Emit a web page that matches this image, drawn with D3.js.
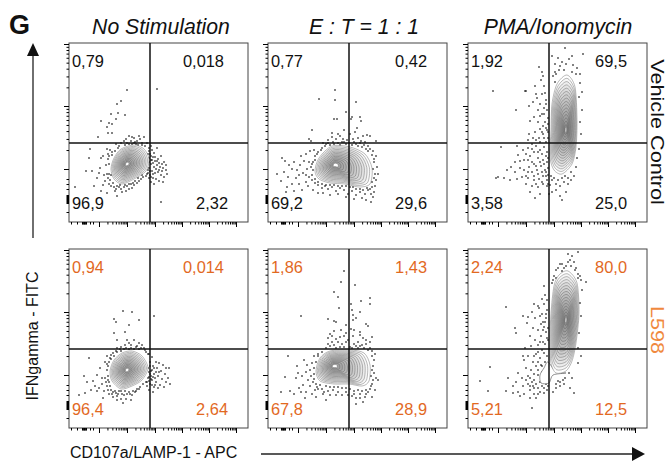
<!DOCTYPE html>
<html>
<head>
<meta charset="utf-8">
<script src="https://cdn.jsdelivr.net/npm/d3@7"></script>
<style>
  html, body { margin: 0; background: #fff; }
  text { font-family: "Liberation Sans", Arial, sans-serif; }
</style>
</head>
<body>
<div id="wrapper"></div>
<script>
// values, channel units are 0-179 on both axes
const columnTitles = ["No Stimulation", "E : T = 1 : 1", "PMA/Ionomycin"]
const rowLabels = ["Vehicle Control", "L598"]

const quadrantsVehicle = [
  ["0,79", "0,018", "96,9", "2,32"],
  ["0,77", "0,42", "69,2", "29,6"],
  ["1,92", "69,5", "3,58", "25,0"],
]
const quadrantsL598 = [
  ["0,94", "0,014", "96,4", "2,64"],
  ["1,86", "1,43", "67,8", "28,9"],
  ["2,24", "80,0", "5,21", "12,5"],
]

const gateX = 81
const gateY = 79

const xDecades = [30, 58, 86, 113, 140, 167]
const yDecades = [53, 116, 178]
const xLowTicks = [2, 8, 13, 13.7, 14.4, 15, 15.7, 16.4, 17, 21, 24]
const yLowTicks = [10, 19, 20, 21, 22, 23, 24, 25, 26, 27, 33, 38, 43]
const minorSteps = [2, 3, 4, 5, 6, 7, 8, 9]

// contour outlines (outer line), core = where the rings close in
const outlineVehicleNone = [[65,77],[75,73],[80,63],[77,51],[65,43],[53,38],[45,43],[42,53],[45,64],[52,73]]
const coreVehicleNone = [58, 58]
const outlineVehicleEt = [[64,76],[82,75],[97,68],[104,54],[102,38],[91,35],[77,38],[62,39],[51,43],[47,51],[51,64]]
const coreVehicleEt = [67, 57]
const outlineVehiclePma = [[99,147],[107,135],[109,102],[108,75],[104,58],[94,48],[86,52],[82,65],[83,92],[84,118],[89,138]]
const coreVehiclePma = [98, 92]
const outlineL598None = [[63,77],[73,72],[79,60],[73,48],[63,42],[52,39],[43,47],[41,57],[45,68],[53,75]]
const coreL598None = [58, 58]
const outlineL598Et = [[62,77],[82,78],[96,75],[102,63],[101,47],[94,42],[81,44],[66,44],[52,47],[48,57],[52,70]]
const coreL598Et = [66, 62]
const outlineL598Pma = [[100,157],[109,145],[111,115],[108,85],[104,67],[98,57],[88,55],[83,65],[82,88],[83,115],[86,142],[91,153]]
const coreL598Pma = [98, 108]
const outlineL598Tail = [[80,66],[88,56],[98,55],[85,53],[81,45],[73,45],[72,53],[76,60]]

const ringsRound = [1, .93, .86, .79, .72, .65, .58, .51, .44, .37, .3, .23, .16, .09]
const ringsTall = [1, .94, .88, .82, .76, .7, .64, .58, .52, .46, .4, .34, .28, .22, .16, .1, .05]

// outlying events
const dotsVehicleNone = [
  [58,132],[88,133],[52,121],[48,118],[49,109],[56,107],[47,103],[42,108],[32,101],[40,99],[38,95],[43,98],[39,89],[43,89],[29,85],
  [60,86],[65,84],[70,86],[75,85],[57,83],[62,81],[68,81],[73,79],[52,79],[47,78],[78,79],[58,79],[65,79],[55,81],[71,83],[63,85],[67,78],[60,78],[50,76],[56,77],[73,77],[76,76],
  [21,73],[20,64],[32,64],[38,73],[17,51],[23,51],[6,35],[25,36],[32,31],[38,29],[48,26],[92,20],[35,47],[37,57],[34,66],[39,63],[31,54],[28,44],[36,41],[40,38],[38,48],[39,68],[41,72],[43,70],[30,49],[34,37],
  [42,36],[45,35],[47,33],[50,35],[52,33],[55,35],[58,36],[60,33],[62,38],[65,37],[68,39],[70,41],[72,43],[74,45],[53,30],[57,31],[44,39],[41,42],[46,31],[63,34],[77,46],[79,49],
  [80,74],[83,72],[81,68],[85,69],[88,74],[80,64],[83,62],[86,65],[89,63],[92,66],[95,60],[82,58],[85,55],[88,57],[91,55],[94,54],[97,52],[98,48],[80,54],[83,51],[86,49],[89,50],[92,47],[95,45],[81,47],[84,44],[87,43],[90,41],[94,40],[82,40],[85,38],[80,60],[78,56],[79,68],[82,76],[97,57],
  [80,71],[82,66],[84,65],[86,61],[88,61],[90,59],[93,58],[82,62],[84,59],[87,53],[90,52],[93,51],[84,48],[81,51],[82,45],[78,60],[79,52],[80,44],[78,48],[40,58],[40,48],[39,44],[42,47],[40,66],[43,67],[46,71],[49,74],[66,80],[63,78],[69,77],[48,36],[51,37],[56,37],[60,38],[64,39],[66,41],[69,44],[73,47]
]
const dotsVehicleEt = [
  [67,132],[51,123],[67,122],[88,120],[66,103],[69,103],[84,105],[92,105],[93,101],[89,94],[83,103],[78,110],[44,92],[64,89],[70,88],[76,92],[82,88],[87,90],[95,86],[99,87],[102,86],[108,81],[41,83],[43,81],[55,79],[60,82],[64,85],[68,83],[72,86],[75,83],[79,82],[85,83],[90,84],[93,81],[97,80],
  [60,79],[65,80],[70,79],[74,80],[78,78],[88,78],[92,79],[96,77],[100,76],[102,73],[105,71],[108,66],[106,60],[109,55],[110,48],[108,42],[107,36],[106,30],[105,25],[103,28],[100,32],[97,28],[94,24],[92,30],[88,27],[84,31],[80,28],[76,32],[72,34],[68,31],[64,35],[60,33],[57,36],[54,34],[50,37],[47,39],[44,42],[41,45],[43,55],[45,60],[47,66],[50,70],[54,74],[57,76],
  [14,64],[17,61],[21,57],[16,50],[9,48],[13,41],[20,45],[24,53],[26,60],[29,52],[32,57],[35,49],[28,44],[24,38],[19,35],[18,30],[26,31],[31,38],[34,32],[38,40],[36,61],[39,53],[41,60],[38,47],[31,47],[33,66],[38,68],[42,71],[46,72],[40,36],[45,32],[50,29],[55,29],[62,27],[70,28],[78,25],[86,23],[98,22],[103,20],
  [84,77],[86,80],[90,76],[94,75],[98,73],[100,71],[104,67],[106,63],[105,53],[107,48],[106,44],[104,40],[104,35],[102,33],[99,34],[95,32],[92,33],[88,33],[85,35],[82,35],[78,36],[74,36],[70,36],[66,37],[62,37],[58,37],[54,38],[50,40],[47,43],[44,47],[45,52],[44,58],[47,62],[49,68],[53,72],[58,78],[62,77],[66,78],[72,77],[76,80],[81,79]
]
const dotsVehiclePma = [
  [25,131],[58,131],[48,112],[57,131],[67,136],[68,128],[65,120],[69,124],[72,118],[61,116],[75,146],[71,155],[74,150],[73,142],[76,136],[77,129],[78,122],[70,112],[74,108],[66,105],[62,101],[70,100],[75,96],[79,112],[80,104],[77,100],[72,93],[67,90],[61,88],[60,82],[65,84],[71,84],[75,88],[79,92],[80,84],[78,80],
  [49,76],[33,75],[50,67],[47,60],[55,72],[58,68],[52,61],[60,62],[64,73],[68,76],[72,72],[76,75],[79,70],[61,55],[56,52],[66,58],[70,64],[75,62],[79,60],[64,50],[69,52],[73,56],[77,52],[80,47],[47,50],[43,55],[39,52],[30,45],[28,44],[36,44],[42,42],[49,43],[54,45],[60,44],[66,42],[71,43],[75,46],[79,42],[58,38],[64,36],[70,35],[75,38],[79,36],[62,30],[67,24],[72,28],
  [84,166],[90,164],[97,174],[104,166],[115,168],[87,158],[91,152],[94,160],[98,158],[101,163],[105,157],[109,154],[112,148],[85,146],[87,140],[112,139],[114,130],[111,125],[114,112],[112,100],[113,88],[111,73],[109,64],[108,55],[106,46],[103,42],[100,38],[96,40],[92,36],[88,38],[84,42],[82,37],[88,32],[92,26],[94,22],[98,30],[84,30],[97,46],[103,50],[81,28],
  [74,128],[78,118],[76,114],[72,106],[76,108],[80,98],[78,94],[74,90],[80,90],[76,84],[72,80],[68,82],[64,78],[60,74],[66,70],[70,70],[74,68],[78,66],[80,64],[76,58],[72,60],[68,56],[64,60],[60,50],[66,46],[70,48],[74,50],[78,50],[80,54],[62,66],[56,62],[52,54],[58,46],[68,38],[74,40],[78,46],[80,38],[83,46],[86,44],[90,42],[94,44],[100,44],[88,148],[92,156],[96,152],[104,150],[108,148],[87,150]
]
const dotsL598None = [
  [54,117],[63,116],[45,109],[70,108],[85,112],[47,106],[60,103],[45,95],[48,88],[56,96],
  [58,88],[60,85],[65,88],[68,82],[62,83],[56,83],[52,81],[70,85],[73,83],[75,80],[48,80],[51,79],[55,79],[60,79],[65,79],[70,79],[76,78],[44,75],[42,73],[47,77],[77,76],[79,74],[38,72],[36,66],[39,62],[41,70],
  [38,58],[36,50],[40,46],[38,42],[42,38],[44,36],[47,35],[50,37],[53,34],[56,37],[60,36],[63,33],[66,36],[68,39],[71,41],[74,44],[77,46],[40,34],[44,31],[48,32],[52,29],[57,29],[62,28],[54,25],[48,28],
  [20,70],[15,52],[18,46],[24,47],[28,53],[31,60],[33,50],[26,42],[30,40],[35,37],[10,33],[16,35],[22,38],[28,37],[33,44],[34,30],
  [80,74],[83,71],[87,66],[90,65],[94,63],[97,60],[100,60],[81,66],[84,62],[88,60],[92,57],[96,54],[99,50],[82,57],[85,54],[89,52],[93,49],[97,46],[101,44],[80,51],[83,48],[87,46],[91,43],[95,41],[81,44],[85,41],[89,40],[80,38],[84,36],[78,42],[79,60],[80,56],[82,52],[86,50],
  [81,62],[83,58],[85,60],[87,56],[90,56],[82,49],[84,51],[81,54],[79,50],[78,46],[80,47],[83,43],[86,43],[39,52],[39,48],[37,46],[41,42],[39,38],[43,34],[46,37],[49,34],[52,37],[55,33],[58,34],[61,34],[64,37],[67,37],[70,39],[38,64],[40,66],[42,69],[45,72],[48,76],[52,77],[57,80],[62,80],[67,81],[72,80]
]
const dotsL598Et = [
  [76,157],[73,146],[87,143],[66,136],[70,131],[102,130],[93,127],[71,120],[83,124],[102,124],[84,118],[85,113],[92,116],[33,112],[60,109],[66,107],[68,106],[85,108],[88,110],[98,104],[100,102],[78,103],[83,99],[86,98],[92,96],[62,94],[66,97],[73,98],[78,95],
  [60,90],[64,92],[68,89],[72,91],[76,92],[80,88],[85,92],[92,93],[95,90],[98,88],[102,86],[104,91],[64,86],[70,86],[74,84],[78,86],[86,84],[90,86],[94,83],[98,84],[102,80],[62,82],[58,80],[66,83],[72,81],[82,81],[90,80],[96,80],[104,77],[107,74],
  [20,72],[29,62],[30,55],[28,50],[17,51],[36,68],[39,63],[44,65],[42,58],[38,56],[34,52],[40,48],[35,43],[42,42],[47,38],[44,34],[38,36],[33,36],[31,40],[22,37],[13,36],[26,34],[37,30],[48,31],[55,34],[60,37],[65,38],[70,36],[74,33],[78,36],[84,32],[88,30],[92,34],[97,31],[100,36],[103,42],[105,48],[106,55],[105,62],[108,50],[110,48],[107,38],[104,31],[95,26],[88,24],[58,28],[54,39],[49,41],[45,46],[43,52],[46,72],[50,74],
  [60,84],[68,80],[76,81],[84,80],[88,82],[92,82],[100,78],[104,72],[106,68],[104,58],[103,52],[104,44],[102,39],[98,38],[94,37],[90,38],[86,37],[82,39],[78,40],[74,40],[70,41],[66,41],[62,41],[58,42],[52,43],[48,44],[46,49],[46,54],[46,60],[48,66],[50,72],[54,76],[50,39],[56,36],[62,33],[68,33],[80,33],[86,34],[92,30],[98,34]
]
const dotsL598Pma = [
  [38,121],[48,95],[47,100],[55,112],[60,111],[59,105],[64,116],[66,124],[70,122],[76,142],[77,133],[74,129],[71,120],[67,110],[72,112],[75,106],[79,118],[78,110],[76,101],[70,98],[65,100],[62,92],[67,88],[73,92],[78,96],[80,88],[75,86],[70,83],[63,82],[57,80],
  [55,72],[22,61],[50,55],[40,50],[45,42],[12,47],[20,37],[38,37],[56,68],[60,72],[65,66],[68,74],[72,70],[76,75],[79,72],[58,60],[63,58],[68,62],[73,63],[77,66],[54,50],[60,52],[66,48],[70,53],[74,56],[45,35],[50,36],[56,34],[62,38],[66,34],[70,40],[74,42],[78,44],[48,46],[55,42],[60,44],[65,42],[72,36],[76,35],[79,38],[52,32],[62,30],[68,30],[64,20],[106,35],[102,40],[96,44],[92,42],[88,40],[85,36],[90,47],[97,50],[104,50],[101,55],[110,65],
  [92,164],[96,160],[100,166],[104,172],[110,176],[100,174],[94,157],[98,152],[103,162],[107,158],[110,154],[88,158],[86,152],[84,145],[113,148],[118,146],[114,138],[110,150],[112,125],[113,112],[111,95],[110,80],[113,72],
  [79,128],[76,124],[78,114],[74,114],[77,106],[73,104],[80,100],[75,98],[79,90],[72,86],[77,84],[74,78],[70,76],[66,72],[70,66],[74,62],[70,58],[66,54],[62,50],[68,44],[72,46],[64,46],[58,48],[76,40],[80,42],[70,34],[66,40],[62,42],[88,44],[92,46],[95,48],[90,160],[94,164],[98,162],[102,168],[106,166],[108,160],[112,152],[88,150],[85,148]
]

// 1. Create chart parameters
let dimensions = {
  width: 669,
  height: 463,
  panel: 179,
  columns: [69, 268, 468],
  rows: [43, 249],
}

const orange = "#e2691f"

// 2. Scales, channel units to panel pixels
const xScale = d3.scaleLinear().domain([0, 179]).range([0, dimensions.panel])
const yScale = d3.scaleLinear().domain([0, 179]).range([dimensions.panel, 0])

const panels = [
  { col: 0, row: 0, q: quadrantsVehicle[0], dots: dotsVehicleNone, outline: outlineVehicleNone, core: coreVehicleNone, rings: ringsRound },
  { col: 1, row: 0, q: quadrantsVehicle[1], dots: dotsVehicleEt, outline: outlineVehicleEt, core: coreVehicleEt, rings: ringsRound },
  { col: 2, row: 0, q: quadrantsVehicle[2], dots: dotsVehiclePma, outline: outlineVehiclePma, core: coreVehiclePma, rings: ringsTall },
  { col: 0, row: 1, q: quadrantsL598[0], dots: dotsL598None, outline: outlineL598None, core: coreL598None, rings: ringsRound },
  { col: 1, row: 1, q: quadrantsL598[1], dots: dotsL598Et, outline: outlineL598Et, core: coreL598Et, rings: ringsRound },
  { col: 2, row: 1, q: quadrantsL598[2], dots: dotsL598Pma, outline: outlineL598Pma, core: coreL598Pma, rings: ringsTall, tail: outlineL598Tail },
]

// log style ticks, each decade gets its minor ticks
const decadeWidth = (decades, i) => decades[i + 1] - decades[i]
const minorsOf = decades => decades.slice(0, -1).flatMap((d, i) =>
  minorSteps.map(m => d + Math.log10(m) * decadeWidth(decades, i)))

// 3. Create SVG canvas
const wrapper = d3.select("#wrapper")
  .append("svg")
    .attr("width", dimensions.width)
    .attr("height", dimensions.height)

const defs = wrapper.append("defs")
defs.append("filter").attr("id", "soft")
  .append("feGaussianBlur").attr("stdDeviation", 0.25)

const contourLine = d3.line()
  .x(d => xScale(d[0]))
  .y(d => yScale(d[1]))
  .curve(d3.curveCardinalClosed.tension(0.15))

// 4. Draw panels
panels.forEach(p => {
  const bounds = wrapper.append("g")
    .attr("transform", `translate(${dimensions.columns[p.col]},${dimensions.rows[p.row]})`)

  const marks = bounds.append("g").attr("filter", "url(#soft)")

  marks.selectAll(".dot").data(p.dots).join("rect")
    .attr("class", "dot")
    .attr("x", d => xScale(d[0]) - 0.7)
    .attr("y", d => yScale(d[1]) - 0.7)
    .attr("width", 1.4)
    .attr("height", 1.4)
    .attr("fill", "#000")

  if (p.tail) {
    marks.append("path")
      .attr("d", contourLine(p.tail))
      .attr("fill", "#fff")
      .attr("stroke", "#666")
      .attr("stroke-width", 0.7)
  }

  // rings shrink from the outer line to the core
  p.rings.forEach((r, i) => {
    const ring = p.outline.map(d => [p.core[0] + (d[0] - p.core[0]) * r, p.core[1] + (d[1] - p.core[1]) * r])
    const last = i === p.rings.length - 1
    marks.append("path")
      .attr("d", contourLine(ring))
      .attr("fill", i === 0 || last ? "#fff" : "#000")
      .attr("fill-opacity", i === 0 || last ? 1 : 0.035)
      .attr("stroke", "#555")
      .attr("stroke-opacity", 0.75)
      .attr("stroke-width", 0.55)
  })

  // frame
  bounds.append("rect")
    .attr("width", dimensions.panel)
    .attr("height", dimensions.panel)
    .attr("fill", "none")
    .attr("stroke", "#444")
    .attr("stroke-width", 1)

  // gate lines
  bounds.append("line")
    .attr("x1", 0).attr("x2", dimensions.panel)
    .attr("y1", yScale(gateY)).attr("y2", yScale(gateY))
    .attr("stroke", "#111").attr("stroke-width", 1.5)
  bounds.append("line")
    .attr("x1", xScale(gateX)).attr("x2", xScale(gateX))
    .attr("y1", 0).attr("y2", dimensions.panel)
    .attr("stroke", "#111").attr("stroke-width", 1.5)

  // axes
  const bottom = bounds.append("g").attr("transform", `translate(0,${dimensions.panel})`)
  const left = bounds.append("g")
  bottom.append("g").call(d3.axisBottom(xScale).tickValues(xDecades).tickSize(5).tickFormat(""))
  bottom.append("g").call(d3.axisBottom(xScale).tickValues(minorsOf(xDecades).concat(xLowTicks)).tickSize(2.5).tickFormat(""))
  left.append("g").call(d3.axisLeft(yScale).tickValues(yDecades).tickSize(5).tickFormat(""))
  left.append("g").call(d3.axisLeft(yScale).tickValues(minorsOf(yDecades).concat(yLowTicks)).tickSize(2.5).tickFormat(""))
  bounds.selectAll(".domain").remove()
  bounds.selectAll(".tick line").attr("stroke", "#000").attr("stroke-width", 1)

  // quadrant percentages
  const labelColor = p.row === 1 ? orange : "#111"
  const rightEdge = t => t.length > 4 ? 155 : 159
  const quad = (t, x, y, anchor) => bounds.append("text")
    .attr("x", x).attr("y", y)
    .attr("text-anchor", anchor)
    .attr("font-size", 16.4)
    .attr("fill", labelColor)
    .text(t)
  quad(p.q[0], 3, 23.5, "start")
  quad(p.q[1], rightEdge(p.q[1]), 23.5, "end")
  quad(p.q[2], 3, 165.5, "start")
  quad(p.q[3], rightEdge(p.q[3]), 165.5, "end")
})

// 5. Titles and outside labels
wrapper.append("text")
  .attr("x", 9).attr("y", 34)
  .attr("font-size", 27).attr("font-weight", "bold")
  .attr("fill", "#111")
  .text("G")

const titleCenters = [161, 364, 558]
wrapper.selectAll(".title").data(columnTitles).join("text")
  .attr("class", "title")
  .attr("x", (d, i) => titleCenters[i])
  .attr("y", 34)
  .attr("text-anchor", "middle")
  .attr("font-size", 21.2)
  .attr("font-style", "italic")
  .attr("fill", "#111")
  .text(d => d)

const rowCenters = [132, 330]
wrapper.selectAll(".rowLabel").data(rowLabels).join("text")
  .attr("class", "rowLabel")
  .attr("transform", (d, i) => `translate(651,${rowCenters[i]}) rotate(90) scale(1.14,1)`)
  .attr("text-anchor", "middle")
  .attr("font-size", 19)
  .attr("fill", (d, i) => i === 0 ? "#111" : "#f0893d")
  .text(d => d)

wrapper.append("text")
  .attr("transform", "translate(38,336) rotate(-90)")
  .attr("text-anchor", "middle")
  .attr("font-size", 16)
  .attr("fill", "#111")
  .text("IFNgamma - FITC")

wrapper.append("text")
  .attr("x", 70).attr("y", 458)
  .attr("font-size", 16)
  .attr("fill", "#111")
  .text("CD107a/LAMP-1 - APC")

// arrows
wrapper.append("line")
  .attr("x1", 33).attr("x2", 33).attr("y1", 238).attr("y2", 54)
  .attr("stroke", "#222").attr("stroke-width", 1.3)
wrapper.append("path").attr("d", "M33,43 L39,56 L27,56 Z").attr("fill", "#111")

wrapper.append("line")
  .attr("x1", 261).attr("x2", 634).attr("y1", 454).attr("y2", 454)
  .attr("stroke", "#222").attr("stroke-width", 1.3)
wrapper.append("path").attr("d", "M645,454 L632,447 L632,461 Z").attr("fill", "#111")
</script>
</body>
</html>
